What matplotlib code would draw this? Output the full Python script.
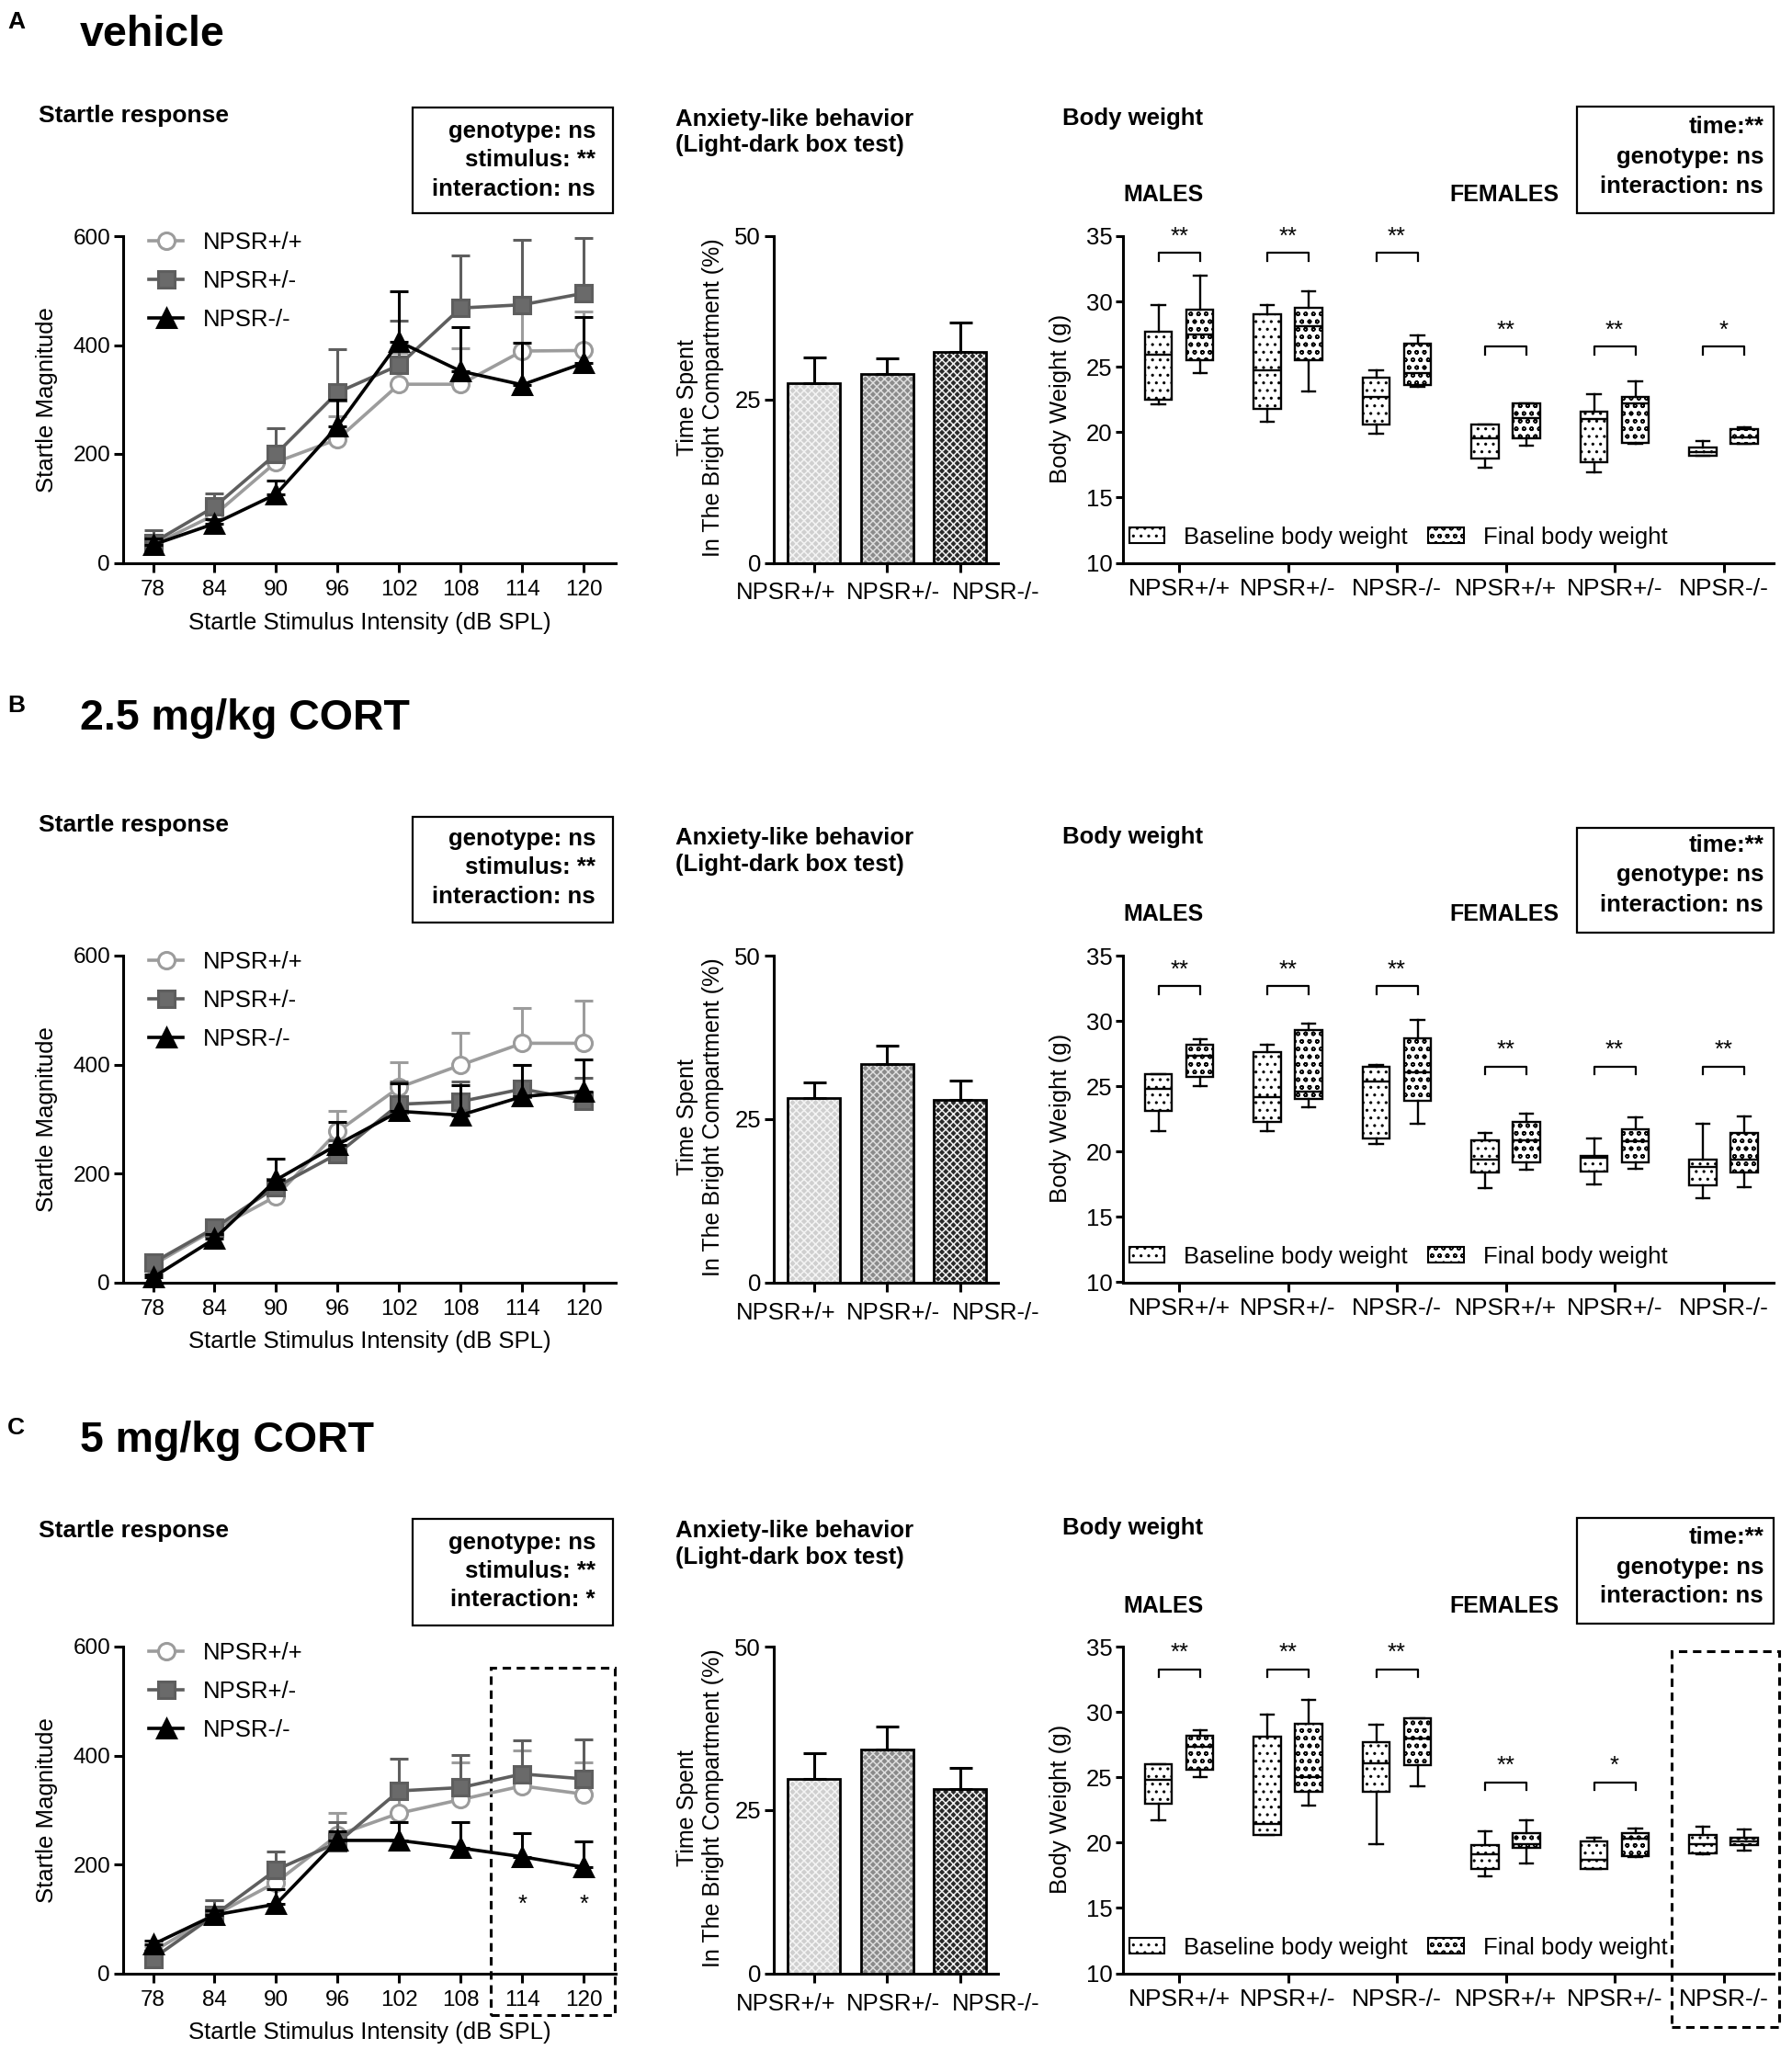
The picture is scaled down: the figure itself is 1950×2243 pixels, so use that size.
import numpy as np
import matplotlib
matplotlib.use("Agg")
import matplotlib.pyplot as plt
from matplotlib.patches import Rectangle, Patch

plt.rcParams['font.family'] = ['Liberation Sans', 'DejaVu Sans']
plt.rcParams['hatch.linewidth'] = 1.1

# ---------------- data ----------------
intensity = ['78', '84', '90', '96', '102', '108', '114', '120']
genotypes = ['NPSR+/+', 'NPSR+/-', 'NPSR-/-']
row_letters = ['A', 'B', 'C']
doses = ['vehicle', '2.5 mg/kg CORT', '5 mg/kg CORT']

# startle magnitude, mean and SEM (upper bar only), one list per treatment
startle_wt = [[33, 88, 185, 227, 328, 328, 389, 390],
              [32, 97, 158, 277, 358, 399, 439, 439],
              [40, 107, 167, 254, 294, 319, 344, 329]]
startle_wt_sem = [[12, 23, 27, 43, 57, 66, 75, 72],
                  [8, 8, 12, 37, 47, 59, 65, 79],
                  [10, 27, 33, 41, 46, 68, 65, 58]]
startle_het = [[37, 103, 200, 313, 363, 468, 474, 495],
               [36, 100, 175, 236, 327, 332, 355, 334],
               [27, 107, 190, 240, 335, 341, 366, 357]]
startle_het_sem = [[23, 25, 47, 79, 82, 97, 120, 102],
                   [6, 8, 12, 25, 41, 36, 44, 42],
                   [13, 28, 34, 37, 59, 60, 62, 73]]
startle_ko = [[33, 72, 126, 251, 406, 352, 327, 367],
              [9, 80, 188, 253, 314, 307, 341, 351],
              [53, 107, 127, 244, 244, 230, 214, 195]]
startle_ko_sem = [[12, 8, 25, 49, 93, 81, 77, 85],
                  [6, 8, 39, 41, 51, 55, 58, 58],
                  [7, 8, 27, 16, 33, 47, 43, 47]]
startle_stats = [['genotype: ns', 'stimulus: **', 'interaction: ns'],
                 ['genotype: ns', 'stimulus: **', 'interaction: ns'],
                 ['genotype: ns', 'stimulus: **', 'interaction: *']]

# light-dark box: time in bright compartment (%)
bright_mean = [[27.5, 28.9, 32.3], [28.2, 33.4, 27.9], [29.8, 34.3, 28.2]]
bright_sem = [[4.0, 2.4, 4.5], [2.4, 2.8, 3.0], [3.9, 3.5, 3.3]]

# body weight boxes: (min, q1, median, q3, max); males then females
base_bw = [
    [(22.1, 22.5, 25.9, 27.7, 29.7), (20.8, 21.8, 24.7, 29.0, 29.7), (19.9, 20.6, 22.7, 24.2, 24.7),
     (17.3, 18.0, 19.5, 20.6, 20.6), (16.9, 17.7, 21.0, 21.6, 22.9), (18.2, 18.2, 18.5, 18.8, 19.3)],
    [(21.6, 23.1, 24.8, 25.9, 25.9), (21.6, 22.3, 24.2, 27.6, 28.2), (20.6, 21.0, 25.4, 26.5, 26.6),
     (17.2, 18.4, 19.4, 20.9, 21.4), (17.5, 18.5, 19.5, 19.7, 21.0), (16.4, 17.4, 18.8, 19.4, 22.1)],
    [(21.7, 23.0, 24.8, 26.0, 26.0), (20.6, 20.6, 21.4, 28.1, 29.8), (19.9, 23.9, 26.1, 27.7, 29.0),
     (17.4, 18.0, 19.1, 19.8, 20.9), (18.0, 18.0, 18.7, 20.1, 20.4), (19.1, 19.2, 19.9, 20.6, 21.2)],
]
final_bw = [
    [(24.5, 25.5, 27.5, 29.4, 32.0), (23.1, 25.5, 28.1, 29.5, 30.8), (23.5, 23.6, 24.5, 26.8, 27.4),
     (19.0, 19.5, 21.1, 22.2, 22.2), (19.1, 19.2, 22.2, 22.7, 23.9), (19.1, 19.1, 19.6, 20.2, 20.4)],
    [(25.0, 25.7, 27.3, 28.2, 28.6), (23.4, 24.0, 24.6, 29.3, 29.8), (22.1, 23.9, 26.1, 28.7, 30.1),
     (18.6, 19.2, 20.9, 22.3, 22.9), (18.7, 19.2, 20.8, 21.7, 22.6), (17.3, 18.4, 19.4, 21.4, 22.7)],
    [(25.0, 25.6, 27.3, 28.2, 28.6), (22.8, 23.9, 25.0, 29.1, 30.9), (24.3, 25.9, 28.0, 29.5, 29.5),
     (18.4, 19.6, 19.9, 20.7, 21.7), (18.9, 19.0, 20.3, 20.7, 21.1), (19.4, 19.8, 20.1, 20.4, 21.0)],
]
bw_sig = [['**', '**', '**', '**', '**', '*'],
          ['**', '**', '**', '**', '**', '**'],
          ['**', '**', '**', '**', '*', '']]
bw_bracket = [[33.7, 33.7, 33.7, 26.55, 26.55, 26.55],
              [32.65, 32.65, 32.65, 26.5, 26.5, 26.5],
              [33.25, 33.25, 33.25, 24.6, 24.6, None]]
bw_stats = ['time:**', 'genotype: ns', 'interaction: ns']

# ---------------- layout (pixels) ----------------
W, H = 1950, 2243
fig = plt.figure(figsize=(W / 100, H / 100), dpi=100)


def fx(px):
    return px / W


def fy(py):
    return 1 - py / H


ax_top = [257, 1040, 1792]
ax_h = 355.5
head_letter = [14, 758, 1544]
head_small_title = [126, 898, 1666]
head_mid_title = [(128, 160), (910, 943), (1664, 1697)]
head_bw_title = [129, 911, 1663]
startle_box = [(117, 232), (889, 1004), (1653, 1769)]
startle_lines = [(143, 174, 206), (913, 944, 976), (1679, 1710, 1741)]
bw_box = [(116, 232), (901, 1015), (1652, 1767)]
bw_lines = [(138, 171, 203), (920, 952, 985), (1673, 1706, 1737)]
sex_y = [212, 995, 1748]

LW = 2.2
FS = 18.5


def style(ax, tick_len=7):
    for s in ['top', 'right']:
        ax.spines[s].set_visible(False)
    for s in ['left', 'bottom']:
        ax.spines[s].set_linewidth(LW)
    ax.tick_params(width=LW, length=tick_len, labelsize=FS)


def new_axes(left, right, r):
    top = ax_top[r]
    return fig.add_axes([fx(left), fy(top + ax_h), (right - left) / W, ax_h / H])


def stats_box(x0, x1, yb, lines, texts, xr):
    fig.patches.append(Rectangle((fx(x0), fy(yb[1])), (x1 - x0) / W, (yb[1] - yb[0]) / H,
                                 transform=fig.transFigure, fill=False, edgecolor='black', lw=1.6))
    for t, y in zip(texts, lines):
        fig.text(fx(xr), fy(y), t, ha='right', va='center', fontsize=FS, fontweight='bold')


series_style = [('o', '#9c9c9c', 'white'), ('s', '#5e5e5e', '#6a6a6a'), ('^', 'black', 'black')]
box_hatch = ['..', 'oo']

for r in range(3):
    # headers
    fig.text(fx(8), fy(head_letter[r] - 2), row_letters[r], ha='left', va='top', fontsize=19, fontweight='bold')
    fig.text(fx(87), fy(head_letter[r] + 2), doses[r], ha='left', va='top', fontsize=33.5, fontweight='bold')

    # ---------- startle response ----------
    ax = new_axes(134, 670, r)
    style(ax)
    x = np.arange(len(intensity))
    data = [(startle_wt[r], startle_wt_sem[r]), (startle_het[r], startle_het_sem[r]),
            (startle_ko[r], startle_ko_sem[r])]
    for (m, s), (mk, col, face), lab in zip(data, series_style, genotypes):
        ax.errorbar(x, m, yerr=[np.zeros(len(m)), s], fmt='none', ecolor=col, elinewidth=2.2,
                    capsize=7, capthick=2.2, clip_on=False)
        ax.plot(x, m, marker=mk, color=col, mfc=face, mec=col, ms=13 if mk != '^' else 15,
                lw=2.6, mew=2.2, label=lab, clip_on=False)
    ax.set_xlim(-0.486, 7.52)
    ax.set_ylim(0, 600)
    ax.set_yticks([0, 200, 400, 600])
    ax.set_xticks(x, intensity)
    ax.tick_params(axis='y', pad=3)
    ax.tick_params(axis='x', pad=6)
    ax.tick_params(labelsize=17.5)
    ax.set_xlabel('Startle Stimulus Intensity (dB SPL)', fontsize=FS, va='center')
    ax.xaxis.set_label_coords(0.5, -65 / ax_h)
    ax.set_ylabel('Startle Magnitude', fontsize=18.5, va='center')
    ax.yaxis.set_label_coords((51 - 134) / 536, 0.5)
    ax.legend(loc='upper left', bbox_to_anchor=(0.052, 1.015), frameon=False, fontsize=FS,
              handlelength=1.45, handletextpad=0.85, labelspacing=0.7, borderpad=0, borderaxespad=0)
    fig.text(fx(42), fy(head_small_title[r]), 'Startle response', ha='left', va='center',
             fontsize=19, fontweight='bold')
    stats_box(449, 667, startle_box[r], startle_lines[r], startle_stats[r], 648)
    if r == 2:
        ax.add_patch(Rectangle((5.49, -77), 7.51 - 5.49, 561 + 77, fill=False, edgecolor='black',
                               lw=2.2, linestyle=(0, (3, 2)), clip_on=False))
        for xi in (6, 7):
            ax.text(xi, 126, '*', ha='center', va='center', fontsize=FS)

    # ---------- light-dark box ----------
    ax = new_axes(842, 1086, r)
    style(ax)
    xb = np.arange(3)
    faces = ['#cfcfcf', '#8a8a8a', '#2a2a2a']
    hatch_cols = ['#f4f4f4', '#dedede', '#f0f0f0']
    for i in range(3):
        ax.bar(xb[i], bright_mean[r][i], width=0.72, color=faces[i], edgecolor=hatch_cols[i],
               hatch='xxxx', linewidth=0)
    ax.bar(xb, bright_mean[r], width=0.72, fill=False, edgecolor='black', linewidth=2.0,
           yerr=[np.zeros(3), bright_sem[r]], error_kw=dict(ecolor='black', elinewidth=2.2,
                                                          capsize=9, capthick=2.2))
    ax.set_xlim(-0.55, 2.52)
    ax.set_ylim(0, 50)
    ax.set_yticks([0, 25, 50])
    ax.set_xticks(xb, ['', '', ''])
    ax.tick_params(axis='y', pad=3)
    for xl, lab in zip([-0.39, 1.09, 2.49], genotypes):
        ax.text(xl, -33 / ax_h, lab, transform=ax.get_xaxis_transform(), ha='center', va='center',
                fontsize=FS)
    ax.set_ylabel('Time Spent\nIn The Bright Compartment (%)', fontsize=18, va='center',
                  linespacing=1.25)
    ax.yaxis.set_label_coords((762 - 842) / 244, 0.505)
    fig.text(fx(735), fy(sum(head_mid_title[r]) / 2), 'Anxiety-like behavior\n(Light-dark box test)',
             ha='left', va='center', fontsize=FS, fontweight='bold', linespacing=1.25)

    # ---------- body weight ----------
    ax = new_axes(1221.5, 1930, r)
    style(ax, tick_len=6)
    stats, pos = [], []
    for g in range(6):
        for k, s in enumerate((base_bw[r][g], final_bw[r][g])):
            lo, q1, med, q3, hi = s
            stats.append(dict(whislo=lo, q1=q1, med=med, q3=q3, whishi=hi, fliers=[]))
            pos.append(g - 0.19 if k == 0 else g + 0.19)
    bp = ax.bxp(stats, positions=pos, widths=0.25, patch_artist=True, showfliers=False,
                capwidths=0.12, manage_ticks=False,
                boxprops=dict(facecolor='white', edgecolor='black', linewidth=1.7),
                whiskerprops=dict(color='black', linewidth=1.7),
                capprops=dict(color='black', linewidth=1.7),
                medianprops=dict(color='black', linewidth=1.7))
    for i, b in enumerate(bp['boxes']):
        b.set_hatch(box_hatch[i % 2])
    for g in range(6):
        yb = bw_bracket[r][g]
        if yb is None:
            continue
        x0, x1 = g - 0.19, g + 0.19
        ax.plot([x0, x0, x1, x1], [yb - 0.6, yb, yb, yb - 0.6], color='black', lw=1.6, clip_on=False)
        ax.text(g, yb + 1.25, bw_sig[r][g], ha='center', va='center', fontsize=FS)
    ax.set_xlim(-0.52, 5.46)
    ax.set_ylim(10, 35)
    ax.set_yticks([10, 15, 20, 25, 30, 35])
    ax.set_xticks(range(6), genotypes * 2)
    ax.tick_params(axis='y', pad=2)
    ax.tick_params(axis='x', length=7, pad=5, labelsize=19)
    ax.set_ylabel('Body Weight (g)', fontsize=FS, va='center')
    ax.yaxis.set_label_coords((1153.5 - 1221.5) / 708.5, 0.503)
    handles = [Patch(facecolor='white', edgecolor='black', hatch=box_hatch[0], lw=1.5),
               Patch(facecolor='white', edgecolor='black', hatch=box_hatch[1], lw=1.5)]
    ax.legend(handles, ['Baseline body weight', 'Final body weight'], loc='lower left',
              bbox_to_anchor=(0.01, 0.045), ncol=2, frameon=False, fontsize=FS,
              handlelength=1.5, handleheight=0.6, handletextpad=0.8, columnspacing=0.9,
              borderpad=0, borderaxespad=0)
    if r == 2:
        ax.add_patch(Rectangle((4.52, 5.87), 5.51 - 4.52, 34.65 - 5.87, fill=False, edgecolor='black',
                               lw=2.2, linestyle=(0, (3, 2)), clip_on=False))
    fig.text(fx(1156), fy(head_bw_title[r]), 'Body weight', ha='left', va='center',
             fontsize=FS, fontweight='bold')
    fig.text(fx(1266), fy(sex_y[r]), 'MALES', ha='center', va='center', fontsize=18, fontweight='bold')
    fig.text(fx(1637), fy(sex_y[r]), 'FEMALES', ha='center', va='center', fontsize=18, fontweight='bold')
    stats_box(1716, 1930, bw_box[r], bw_lines[r], bw_stats, 1919)

fig.savefig('out.png', dpi=100, facecolor='white')
